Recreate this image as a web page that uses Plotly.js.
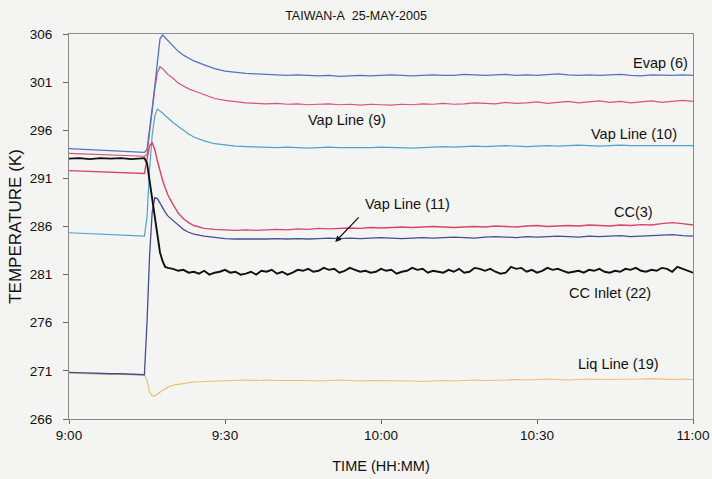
<!DOCTYPE html>
<html>
<head>
<meta charset="utf-8">
<script src="https://cdn.plot.ly/plotly-3.0.1.min.js"></script>
<style>
html,body{margin:0;padding:0;background:#f4f4f3;}
#chart{width:712px;height:479px;}
</style>
</head>
<body>
<div id="chart"></div>
<script>
// Time in minutes after 9:00
const timeMin = [0,2,4,6,8,10,12,14,14.5,15,15.5,16,16.5,17,17.5,18,18.5,19,20,21,22,23,24,
  26,28,30,32,34,36,38,40,42,44,46,48,50,52,54,56,58,60,62,64,66,68,70,72,74,76,78,80,
  82,84,86,88,90,92,94,96,98,100,102,104,106,108,110,112,114,116,118,120];

const evap6 = [294.1,294.05,294.0,293.95,293.9,293.85,293.8,293.75,
  293.7,294.0,296.0,298.3,300.6,303.0,305.5,305.9,305.6,305.3,
  304.7,304.2,303.8,303.5,303.2,
  302.8,302.4,302.15,302.0,301.9,301.85,301.8,301.75,301.7,301.75,301.7,301.65,301.7,301.6,301.65,301.7,
  301.65,301.7,301.75,301.7,301.65,301.7,301.75,301.7,301.7,301.8,301.75,301.7,301.75,301.8,301.7,301.75,
  301.7,301.8,301.85,301.75,301.7,301.75,301.7,301.75,301.8,301.7,301.65,301.75,301.7,301.7,301.75,301.7];

const vapLine9 = [293.6,293.55,293.5,293.45,293.4,293.4,293.35,293.3,
  293.3,293.5,295.5,298.0,300.3,302.0,302.6,302.4,302.1,301.8,
  301.4,300.9,300.6,300.3,300.1,
  299.7,299.3,299.1,298.95,298.85,298.8,298.75,298.8,298.7,298.75,298.65,298.7,298.75,298.65,298.7,298.6,
  298.7,298.65,298.6,298.7,298.65,298.75,298.7,298.8,298.7,298.75,298.85,298.8,298.75,298.9,298.8,298.85,
  298.95,298.8,298.9,299.0,298.85,298.95,299.05,298.9,299.0,298.85,298.95,299.05,298.9,299.0,299.1,299.0];

const vapLine10 = [285.35,285.3,285.25,285.2,285.15,285.1,285.05,285.0,
  285.0,287.0,292.0,295.5,297.5,298.2,298.0,297.8,297.5,297.3,
  296.8,296.4,296.0,295.6,295.3,
  294.9,294.6,294.45,294.35,294.3,294.25,294.2,294.2,294.25,294.2,294.15,294.2,294.25,294.2,294.2,294.15,
  294.2,294.25,294.2,294.2,294.15,294.2,294.25,294.3,294.25,294.3,294.35,294.3,294.35,294.4,294.35,294.3,
  294.35,294.4,294.35,294.4,294.45,294.4,294.35,294.4,294.45,294.4,294.4,294.45,294.4,294.4,294.45,294.4];

const cc3 = [291.8,291.75,291.7,291.65,291.6,291.55,291.5,291.45,
  291.5,293.0,294.4,294.7,294.0,292.8,291.7,290.8,290.0,289.3,
  288.3,287.4,286.8,286.4,286.1,
  285.8,285.7,285.65,285.6,285.65,285.6,285.65,285.7,285.65,285.75,285.7,285.8,285.75,285.8,285.85,285.8,
  285.9,285.85,285.9,285.95,285.9,285.95,286.0,285.95,285.9,285.95,286.0,285.95,286.05,286.0,285.95,286.05,
  286.1,286.0,286.05,286.1,286.05,286.15,286.1,286.05,286.15,286.1,286.2,286.15,286.3,286.4,286.3,286.15];

const vapLine11 = [270.85,270.8,270.75,270.75,270.7,270.7,270.65,270.6,
  270.6,276.0,283.0,287.5,289.0,288.9,288.4,287.9,287.5,287.1,
  286.6,286.1,285.7,285.4,285.2,
  285.0,284.85,284.75,284.7,284.7,284.65,284.7,284.75,284.7,284.75,284.7,284.75,284.8,284.75,284.8,284.75,
  284.8,284.85,284.8,284.75,284.8,284.85,284.8,284.85,284.9,284.85,284.8,284.9,284.95,284.9,284.85,284.95,
  284.9,284.95,285.0,284.95,284.9,285.0,284.95,285.0,285.05,284.95,285.0,285.05,285.1,285.15,285.05,285.0];

const liqLine19 = [270.75,270.7,270.7,270.65,270.65,270.6,270.6,270.55,
  270.55,270.0,268.8,268.4,268.4,268.6,268.8,269.0,269.15,269.3,
  269.5,269.6,269.7,269.8,269.85,
  269.9,269.95,270.0,270.0,270.05,270.0,270.05,270.0,270.0,270.05,270.0,269.95,270.0,270.05,270.0,269.95,
  270.0,270.0,269.95,270.0,269.95,269.9,269.95,270.0,269.95,270.0,270.05,270.0,270.0,270.05,270.1,270.05,
  270.1,270.15,270.1,270.05,270.1,270.15,270.1,270.1,270.15,270.1,270.15,270.2,270.15,270.1,270.15,270.1];

const timeInlet = [0,2,4,6,8,10,12,14,14.5,15,15.5,16,16.5,17,17.5,18,18.5,19,
  20,21,22,23,24,25,26,27,28,29,30,31,32,33,34,35,36,37,38,39,40,41,42,43,44,45,46,47,48,49,
  50,51,52,53,54,55,56,57,58,59,60,61,62,63,64,65,66,67,68,69,70,71,72,73,74,75,76,77,78,79,
  80,81,82,83,84,85,86,87,88,89,90,91,92,93,94,95,96,97,98,99,100,101,102,103,104,105,106,107,108,109,
  110,111,112,113,114,115,116,117,118,119,120];

const ccInlet22 = [293.05,293.1,293.0,293.1,293.05,293.1,293.0,293.1,
  293.1,292.6,290.8,288.9,287.0,285.0,283.3,282.4,281.8,281.7,
  281.6,281.4,281.5,281.2,281.3,281.1,281.4,281.0,281.2,281.3,
  281.5,281.2,281.3,281.0,281.1,281.3,281.0,281.4,281.3,281.5,
  281.1,281.3,281.0,281.2,281.5,281.4,281.6,281.3,281.4,281.7,
  281.5,281.6,281.2,281.4,281.7,281.5,281.3,281.4,281.2,281.3,
  281.6,281.4,281.5,281.1,281.3,281.4,281.7,281.5,281.6,281.2,
  281.4,281.3,281.2,281.5,281.3,281.6,281.2,281.3,281.7,281.6,
  281.4,281.6,281.3,281.1,281.2,281.8,281.6,281.7,281.3,281.5,
  281.2,281.4,281.7,281.5,281.6,281.4,281.2,281.3,281.4,281.2,
  281.5,281.4,281.6,281.3,281.2,281.4,281.3,281.6,281.5,281.7,
  281.4,281.3,281.5,281.4,281.7,281.6,281.3,281.8,281.6,281.4,
  281.2];

const xTickVals = [0,30,60,90,120];
const xTickText = ['9:00','9:30','10:00','10:30','11:00'];
const yTickVals = [266,271,276,281,286,291,296,301,306];

const FONT = 'Liberation Sans, Arial, sans-serif';

const traces = [
  {x: timeMin, y: liqLine19, name: 'Liq Line (19)', line: {color: '#f0bd6c', width: 1.1}},
  {x: timeMin, y: vapLine11, name: 'Vap Line (11)', line: {color: '#44508e', width: 1.3}},
  {x: timeMin, y: vapLine10, name: 'Vap Line (10)', line: {color: '#4ea4c8', width: 1.2}},
  {x: timeMin, y: cc3, name: 'CC(3)', line: {color: '#d6456b', width: 1.4}},
  {x: timeMin, y: vapLine9, name: 'Vap Line (9)', line: {color: '#d9527a', width: 1.2}},
  {x: timeMin, y: evap6, name: 'Evap (6)', line: {color: '#5274bd', width: 1.3}},
  {x: timeInlet, y: ccInlet22, name: 'CC Inlet (22)', line: {color: '#111111', width: 1.9}}
].map(t => Object.assign({type: 'scatter', mode: 'lines', hoverinfo: 'skip'}, t));

const lab = (x, y, text) => ({x, y, xref: 'x', yref: 'y', text, showarrow: false,
  font: {family: FONT, size: 14.5, color: '#111'}});

const layout = {
  width: 712, height: 479,
  margin: {l: 69, r: 19, t: 34, b: 60},
  paper_bgcolor: '#f4f4f3', plot_bgcolor: '#f4f4f3',
  showlegend: false,
  title: {text: 'TAIWAN-A\u00a0 25-MAY-2005', x: 0.5, xanchor: 'center', y: 0.967, yanchor: 'middle',
    font: {family: FONT, size: 12.5, color: '#111'}},
  xaxis: {
    range: [0, 120], tickvals: xTickVals, ticktext: xTickText,
    ticks: 'outside', ticklen: 4, tickcolor: '#666',
    showline: true, linecolor: '#8a8a8a', linewidth: 1, mirror: true,
    showgrid: false, zeroline: false,
    tickfont: {family: FONT, size: 13.5, color: '#111'},
    title: {text: 'TIME (HH:MM)', font: {family: FONT, size: 14.5, color: '#111'}, standoff: 18}
  },
  yaxis: {
    range: [266, 306], tickvals: yTickVals,
    ticks: 'outside', ticklen: 5, tickcolor: '#666', ticklabelstandoff: 8,
    showline: true, linecolor: '#8a8a8a', linewidth: 1, mirror: true,
    showgrid: false, zeroline: false,
    tickfont: {family: FONT, size: 13.5, color: '#111'},
    title: {text: 'TEMPERATURE (K)', font: {family: FONT, size: 17, color: '#111'}, standoff: 3}
  },
  annotations: [
    lab(113.7, 303.0, 'Evap (6)'),
    lab(53.5, 297.1, 'Vap Line (9)'),
    lab(108.7, 295.6, 'Vap Line (10)'),
    lab(65.0, 288.3, 'Vap Line (11)'),
    lab(108.5, 287.5, 'CC(3)'),
    lab(104.0, 279.1, 'CC Inlet (22)'),
    lab(105.6, 271.7, 'Liq Line (19)'),
    {x: 51.2, y: 284.4, xref: 'x', yref: 'y', ax: 56.0, ay: 287.1, axref: 'x', ayref: 'y',
      text: '', showarrow: true, arrowhead: 2, arrowsize: 1, arrowwidth: 1.2, arrowcolor: '#111'}
  ]
};

Plotly.newPlot('chart', traces, layout, {staticPlot: true, displayModeBar: false});
</script>
</body>
</html>
